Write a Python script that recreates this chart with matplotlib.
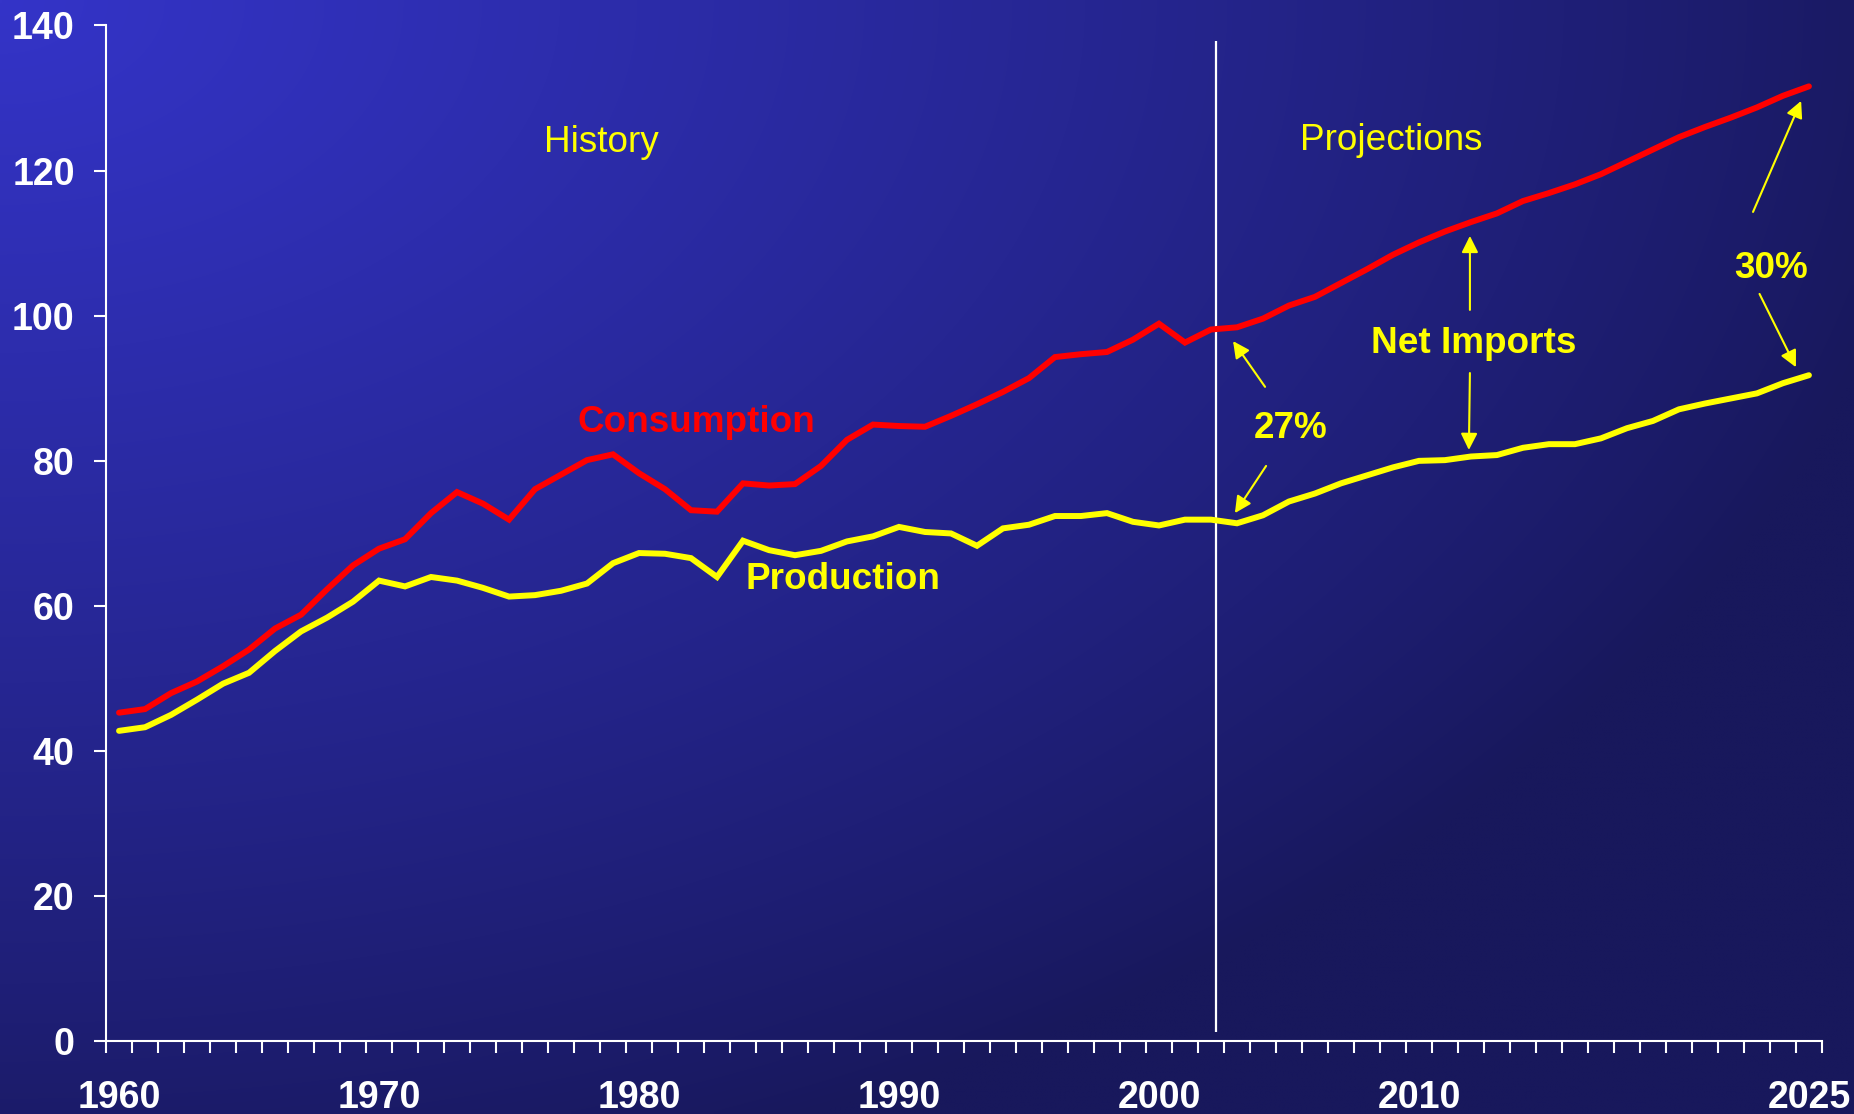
import numpy as np
import matplotlib
matplotlib.use("Agg")
import matplotlib.pyplot as plt

plt.rcParams['font.family'] = ['Liberation Sans', 'DejaVu Sans']

# Datos (quadrillion Btu aprox.)
years = list(range(1960, 2026))
consumption = [45.3, 45.8, 48.0, 49.6, 51.7, 54.0, 56.9, 58.8, 62.3, 65.6,
               67.9, 69.2, 72.8, 75.7, 74.1, 71.9, 76.1, 78.1, 80.1, 80.9,
               78.3, 76.1, 73.2, 73.0, 76.9, 76.6, 76.8, 79.3, 82.9, 85.0,
               84.8, 84.7, 86.2, 87.8, 89.5, 91.4, 94.3, 94.7, 95.0, 96.7,
               98.9, 96.3, 98.1, 98.4, 99.6, 101.4, 102.6, 104.5, 106.4, 108.4,
               110.1, 111.6, 112.9, 114.1, 115.8, 116.9, 118.1, 119.5, 121.2, 122.9,
               124.6, 126.0, 127.3, 128.7, 130.3, 131.6]
production = [42.8, 43.3, 45.0, 47.1, 49.3, 50.8, 53.8, 56.5, 58.4, 60.6,
              63.5, 62.7, 64.0, 63.5, 62.5, 61.3, 61.5, 62.1, 63.1, 65.9,
              67.3, 67.2, 66.6, 64.0, 69.0, 67.7, 67.0, 67.6, 68.9, 69.6,
              70.9, 70.2, 70.0, 68.3, 70.7, 71.2, 72.4, 72.4, 72.8, 71.6,
              71.1, 71.9, 71.9, 71.4, 72.5, 74.4, 75.5, 76.9, 78.0, 79.1,
              80.0, 80.1, 80.6, 80.8, 81.8, 82.3, 82.3, 83.1, 84.5, 85.5,
              87.1, 87.9, 88.6, 89.3, 90.7, 91.8]
year_labels = [1960, 1970, 1980, 1990, 2000, 2010, 2025]
y_ticks = [0, 20, 40, 60, 80, 100, 120, 140]
split_year = 2002.2

# flechas: (cola, punta) en coordenadas de datos
arrows = [((2004.08, 90.2), (2002.85, 96.5)),
          ((2004.12, 79.3), (2002.92, 72.8)),
          ((2011.96, 100.8), (2011.96, 111.0)),
          ((2011.96, 92.1), (2011.92, 81.5)),
          ((2022.85, 114.3), (2024.7, 129.6)),
          ((2023.1, 103.0), (2024.5, 92.9))]

fig = plt.figure(figsize=(18.54, 11.14), dpi=100)

# fondo degradado
bg = fig.add_axes([0, 0, 1, 1], zorder=-1)
u = np.linspace(0, 1, 370)
v = np.linspace(0, 1, 220)
U, V = np.meshgrid(u, v)
d = np.sqrt((U / 1.05) ** 2 + (V / 1.1) ** 2)
f = (np.clip(1 - d, 0, 1) ** 0.85)[..., None]
bright = np.array([52, 52, 200]) / 255
dark = np.array([24, 24, 92]) / 255
img = dark + (bright - dark) * f
bg.imshow(img, extent=[0, 1, 0, 1], aspect='auto', origin='upper', interpolation='bilinear')
bg.axis('off')

ax = fig.add_axes([0.0572, 0.0651, 0.9255, 0.9121])
ax.set_facecolor('none')

ax.plot(years, consumption, color='#ff0000', lw=4.3, solid_capstyle='round', solid_joinstyle='miter', zorder=3)
ax.plot(years, production, color='#ffff00', lw=4.3, solid_capstyle='round', solid_joinstyle='miter', zorder=3)
ax.vlines(split_year, 1.3, 137.8, color='white', lw=1.6, zorder=2)

ax.set_xlim(1959.5, 2025.5)
ax.set_ylim(0, 140)

for s in ['top', 'right']:
    ax.spines[s].set_visible(False)
for s in ['left', 'bottom']:
    ax.spines[s].set_color('white')
    ax.spines[s].set_linewidth(1.5)

ax.set_xticks(np.arange(1959.5, 2026, 1))
ax.set_xticklabels([])
ax.set_xticks(year_labels, minor=True)
ax.set_xticklabels([str(y) for y in year_labels], minor=True)
ax.tick_params(axis='x', which='major', length=8.6, width=1.5, color='white', direction='out')
ax.tick_params(axis='x', which='minor', length=0, pad=27.5, labelsize=27, labelcolor='white')
ax.set_yticks(y_ticks)
ax.tick_params(axis='y', length=8.6, width=1.5, color='white', pad=14, labelsize=27, labelcolor='white')
for lab in ax.get_xticklabels(minor=True) + ax.get_yticklabels():
    lab.set_fontweight('bold')

ax.text(1978.56, 122.6, 'History', color='#ffff00', fontsize=26.6, ha='center', va='baseline')
ax.text(2008.92, 122.8, 'Projections', color='#ffff00', fontsize=26.6, ha='center', va='baseline')
ax.text(1982.22, 84.0, 'Consumption', color='#ff0000', fontsize=26.6, fontweight='bold', ha='center', va='baseline')
ax.text(1987.85, 62.3, 'Production', color='#ffff00', fontsize=26.6, fontweight='bold', ha='center', va='baseline')
ax.text(2012.09, 94.8, 'Net Imports', color='#ffff00', fontsize=26.6, fontweight='bold', ha='center', va='baseline')
ax.text(2005.08, 83.1, '27%', color='#ffff00', fontsize=26.6, fontweight='bold', ha='center', va='baseline')
ax.text(2023.55, 105.2, '30%', color='#ffff00', fontsize=26.6, fontweight='bold', ha='center', va='baseline')

for tail, tip in arrows:
    ax.annotate('', xy=tip, xytext=tail,
                arrowprops=dict(arrowstyle='-|>', color='#ffff00', lw=1.5,
                                mutation_scale=25, shrinkA=0, shrinkB=0))

fig.savefig('out.png', dpi=100)
